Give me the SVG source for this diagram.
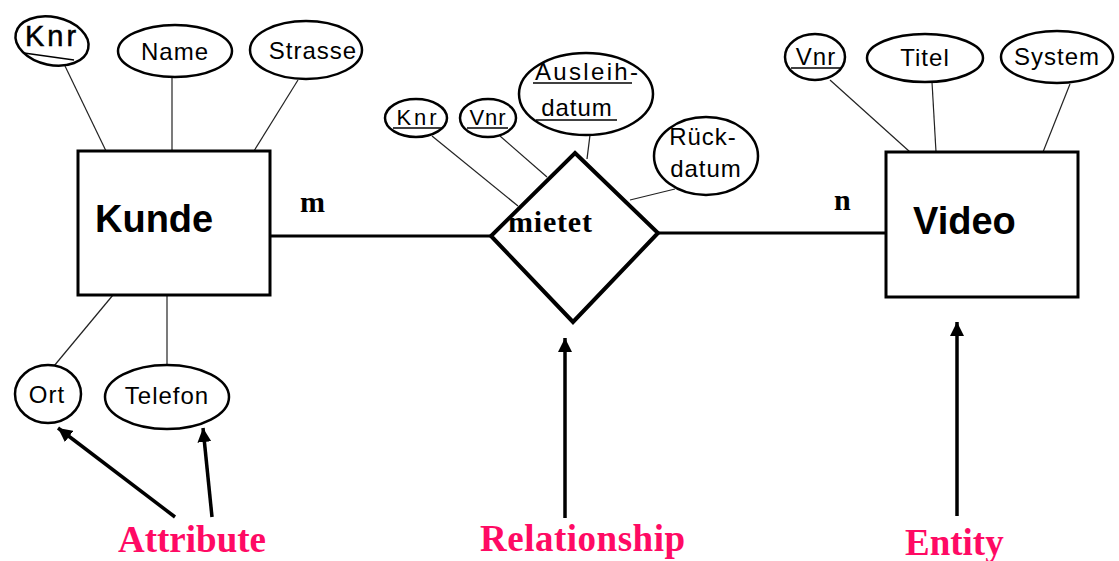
<svg xmlns="http://www.w3.org/2000/svg" width="1119" height="561" viewBox="0 0 1119 561">
<defs>
<marker id="ah" markerUnits="userSpaceOnUse" markerWidth="16" markerHeight="14" refX="14" refY="7" orient="auto">
<path d="M0,0 L14,7 L0,14 Z" fill="#000"/>
</marker>
<style>
.ent{fill:#fff;stroke:#000;stroke-width:3}
.att{fill:#fff;stroke:#000;stroke-width:2.5}
.at{font-family:"Liberation Sans",Arial,sans-serif;font-size:24px;letter-spacing:1px;fill:#000;text-anchor:middle}
.et{font-family:"Liberation Sans",Arial,sans-serif;font-size:38px;font-weight:bold;fill:#000}
.rt{font-family:"Liberation Serif","Times New Roman",serif;font-weight:bold;font-size:30px;fill:#000}
.lab{font-family:"Liberation Serif","Times New Roman",serif;font-weight:bold;font-size:37px;fill:#ff0a64}
.ln{stroke:#222;stroke-width:1.2;fill:none}
.ul{stroke:#000;stroke-width:1.5}
.rel{stroke:#000;stroke-width:3;fill:none}
.arr{stroke:#000;stroke-width:3.5;fill:none;marker-end:url(#ah)}
</style>
</defs>
<rect width="1119" height="561" fill="#fff"/>
<g id="connectors">
<line class="ln" x1="65" y1="66" x2="106" y2="151"/>
<line class="ln" x1="172" y1="77" x2="172" y2="151"/>
<line class="ln" x1="298" y1="80" x2="254" y2="151"/>
<line class="ln" x1="54" y1="366" x2="113" y2="295"/>
<line class="ln" x1="167" y1="295" x2="167" y2="365"/>
<line class="ln" x1="830" y1="80" x2="910" y2="152"/>
<line class="ln" x1="932" y1="82" x2="936" y2="152"/>
<line class="ln" x1="1070" y1="84" x2="1043" y2="152"/>
<line class="ln" x1="432" y1="136" x2="518" y2="206"/>
<line class="ln" x1="500" y1="136" x2="547" y2="177"/>
<line class="ln" x1="590" y1="135" x2="587" y2="159"/>
<line class="ln" x1="675" y1="189" x2="630" y2="200"/>
<line class="rel" x1="270" y1="236" x2="491" y2="236"/>
<line class="rel" x1="658" y1="233" x2="886" y2="233"/>
<line class="arr" x1="175" y1="517" x2="58" y2="428"/>
<line class="arr" x1="212" y1="517" x2="203" y2="428"/>
<line class="arr" x1="565" y1="518" x2="565" y2="338"/>
<line class="arr" x1="957" y1="516" x2="957" y2="322"/>
</g>
<g id="kunde">
<rect class="ent" x="78" y="151" width="192" height="144"/>
<text class="et" x="95" y="232">Kunde</text>
</g>
<g id="video">
<rect class="ent" x="886" y="152" width="192" height="145"/>
<text class="et" x="913" y="234">Video</text>
</g>
<g id="mietet">
<polygon points="575,153 658,233 573,322 491,236" fill="#fff" stroke="#000" stroke-width="4" stroke-linejoin="miter"/>
<text class="rt" x="508" y="232" textLength="84">mietet</text>
</g>
<g id="card-m"><text class="rt" x="300" y="212">m</text></g>
<g id="card-n"><text class="rt" x="834" y="210">n</text></g>
<g id="kunde-knr">
<ellipse class="att" cx="52" cy="41" rx="37" ry="24" transform="rotate(12 52 41)"/>
<text class="at" x="52" y="46" style="font-size:29px;letter-spacing:3px" stroke="#000" stroke-width="0.5">Knr</text>
<line class="ul" x1="24" y1="53" x2="74" y2="60" stroke-width="2"/>
</g>
<g id="kunde-name">
<ellipse class="att" cx="175" cy="51" rx="57" ry="26"/>
<text class="at" x="175" y="60">Name</text>
</g>
<g id="kunde-strasse">
<ellipse class="att" cx="306" cy="50" rx="56" ry="29"/>
<text class="at" x="313" y="59">Strasse</text>
</g>
<g id="kunde-ort">
<ellipse class="att" cx="48" cy="394" rx="33" ry="29"/>
<text class="at" x="47" y="403">Ort</text>
</g>
<g id="kunde-telefon">
<ellipse class="att" cx="167" cy="397" rx="62" ry="32"/>
<text class="at" x="167" y="404">Telefon</text>
</g>
<g id="video-vnr">
<ellipse class="att" cx="815" cy="57" rx="30" ry="23"/>
<text class="at" x="816" y="65">Vnr</text>
<line class="ul" x1="791" y1="68" x2="842" y2="68"/>
</g>
<g id="video-titel">
<ellipse class="att" cx="925" cy="58" rx="58" ry="24"/>
<text class="at" x="925" y="66">Titel</text>
</g>
<g id="video-system">
<ellipse class="att" cx="1057" cy="57" rx="56" ry="26"/>
<text class="at" x="1057" y="65">System</text>
</g>
<g id="rel-knr">
<ellipse class="att" cx="416" cy="118" rx="31" ry="19"/>
<text class="at" x="418" y="125" style="font-size:22px;letter-spacing:3px">Knr</text>
<line class="ul" x1="393" y1="128" x2="442" y2="128"/>
</g>
<g id="rel-vnr">
<ellipse class="att" cx="488" cy="118" rx="28" ry="19"/>
<text class="at" x="488" y="125" style="font-size:22px">Vnr</text>
<line class="ul" x1="467" y1="128" x2="508" y2="128"/>
</g>
<g id="rel-ausleihdatum">
<ellipse class="att" cx="586" cy="94" rx="67" ry="41"/>
<text class="at" x="587" y="80" textLength="104">Ausleih-</text>
<line class="ul" x1="533" y1="83" x2="632" y2="83"/>
<text class="at" x="577" y="116">datum</text>
<line class="ul" x1="536" y1="120" x2="617" y2="120"/>
</g>
<g id="rel-rueckdatum">
<ellipse class="att" cx="706" cy="156" rx="52" ry="39"/>
<text class="at" x="703" y="145">Rück-</text>
<text class="at" x="706" y="177">datum</text>
</g>
<g id="labels">
<text class="lab" x="118" y="552">Attribute</text>
<text class="lab" x="480" y="551" textLength="205">Relationship</text>
<text class="lab" x="905" y="555">Entity</text>
</g>
</svg>
